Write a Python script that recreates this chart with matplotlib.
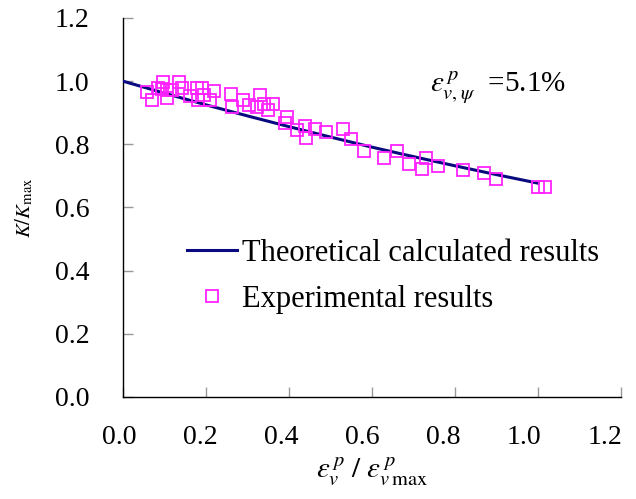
import matplotlib
matplotlib.use("Agg")
import matplotlib.pyplot as plt
from matplotlib.transforms import ScaledTranslation

plt.rcParams['font.family'] = ['Liberation Serif', 'DejaVu Serif']
plt.rcParams['mathtext.fontset'] = 'stix'

# Theoretical curve: normalised stiffness vs normalised plastic volumetric strain
theory_x = [0.0, 0.1, 0.2, 0.3, 0.4, 0.5, 0.6, 0.7, 0.8, 0.9, 1.0]
theory_y = [1.000, 0.962, 0.925, 0.890, 0.856, 0.823, 0.791, 0.761, 0.732, 0.704, 0.677]

# Experimental measurements
exp_x = [0.059, 0.070, 0.084, 0.096, 0.094, 0.106, 0.105, 0.118, 0.136, 0.141,
         0.161, 0.178, 0.191, 0.181, 0.194, 0.210, 0.220, 0.260, 0.263, 0.290,
         0.304, 0.330, 0.322, 0.339, 0.350, 0.361, 0.396, 0.390, 0.419, 0.439,
         0.441, 0.463, 0.490, 0.530, 0.549, 0.580, 0.630, 0.660, 0.690, 0.720,
         0.730, 0.759, 0.819, 0.870, 0.899, 1.000, 1.016]
exp_y = [0.965, 0.939, 0.977, 0.998, 0.975, 0.972, 0.948, 0.972, 0.998, 0.979,
         0.954, 0.977, 0.977, 0.939, 0.957, 0.939, 0.968, 0.958, 0.918, 0.939,
         0.926, 0.957, 0.919, 0.927, 0.909, 0.927, 0.887, 0.867, 0.845, 0.858,
         0.820, 0.849, 0.839, 0.849, 0.817, 0.779, 0.756, 0.779, 0.739, 0.722,
         0.756, 0.731, 0.718, 0.709, 0.689, 0.666, 0.666]

x_ticks = [0.0, 0.2, 0.4, 0.6, 0.8, 1.0, 1.2]
y_ticks = [0.0, 0.2, 0.4, 0.6, 0.8, 1.0, 1.2]

fig = plt.figure(figsize=(6.36, 4.99), dpi=100)
ax = fig.add_axes([123 / 636, 1 - 397 / 499, 498 / 636, 379 / 499])

ax.plot(theory_x, theory_y, color='#0a0a80', lw=2.2,
        label='Theoretical calculated results', zorder=3)
ax.plot(exp_x, exp_y, ls='none', marker='s', ms=9, mfc='none',
        mec='#ff22ff', mew=1.3, label='Experimental results', zorder=4)

ax.set_xlim(0, 1.2)
ax.set_ylim(0, 1.2)
ax.set_xticks(x_ticks)
ax.set_yticks(y_ticks)
ax.set_xticklabels([f'{v:.1f}' for v in x_ticks])
ax.set_yticklabels([f'{v:.1f}' for v in y_ticks])

for s in ('top', 'right'):
    ax.spines[s].set_visible(False)
for s in ('left', 'bottom'):
    ax.spines[s].set_color('black')
    ax.spines[s].set_linewidth(1.0)

ax.tick_params(axis='both', direction='in', length=7, width=1.0,
               color='#999999', labelsize=20)
ax.tick_params(axis='x', pad=20)
ax.tick_params(axis='y', pad=24)

# x labels sit slightly left of their ticks, progressively more to the right
for i, lab in enumerate(ax.get_xticklabels()):
    shift = ScaledTranslation(-(4 + 2 * i) / 100, 0, fig.dpi_scale_trans)
    lab.set_transform(lab.get_transform() + shift)

ax.set_xlabel(r'$\varepsilon_v^{\,p}\ /\ \varepsilon_{v\,\mathrm{max}}^{\,p}$',
              fontsize=21, labelpad=4)
ax.set_ylabel(r'$K/K_{\mathrm{max}}$', fontsize=15, labelpad=14)

ax.text((430 - 123) / 498, (397 - 87) / 379,
        r'$\varepsilon_{v,\psi}^{\,p}$  =5.1%', transform=ax.transAxes,
        fontsize=21, va='center', ha='left')

ax.legend(loc='center left', bbox_to_anchor=(64 / 498, 0.318), frameon=False,
          fontsize=22, handlelength=1.63, handletextpad=0.17, labelspacing=0.55,
          borderpad=0, borderaxespad=0)

fig.savefig('out.png', dpi=100)
